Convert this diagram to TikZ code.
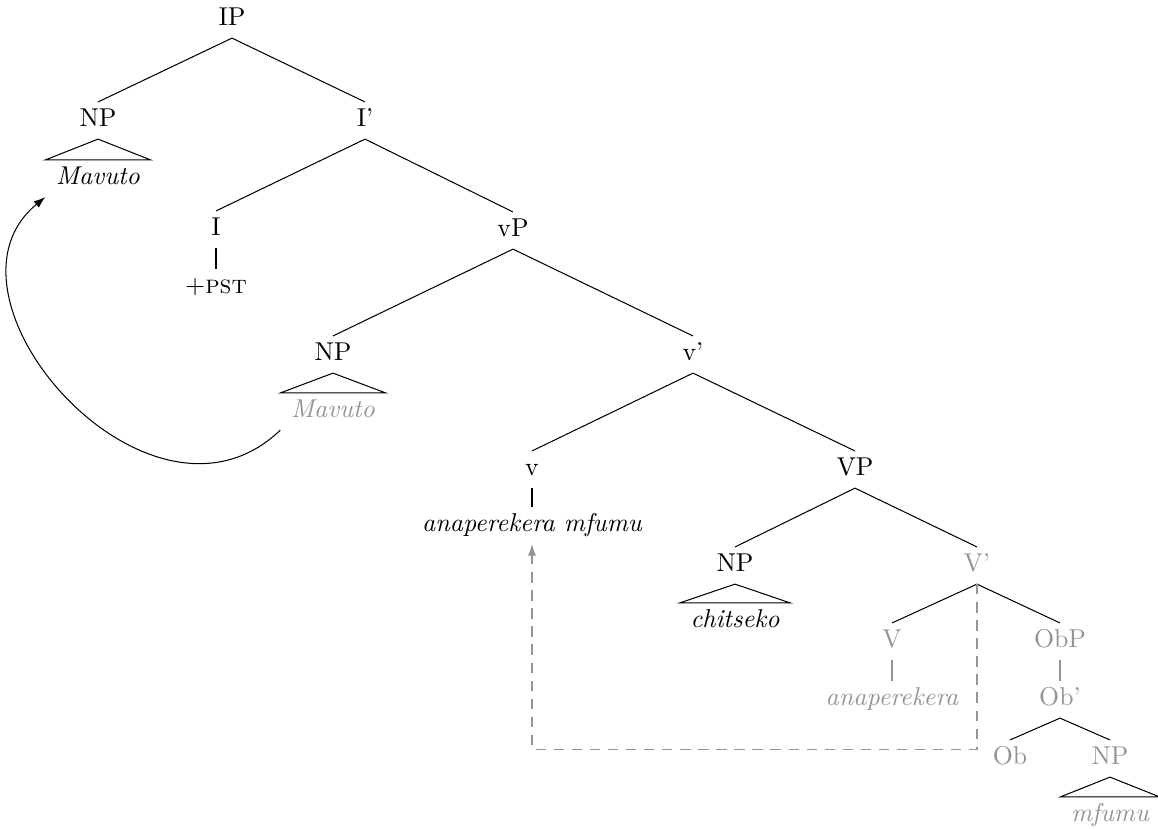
\documentclass[tikz,border=0pt]{standalone}
\usepackage{tikz}
\usetikzlibrary{arrows.meta}

\colorlet{tracegray}{black!42}
\tikzset{
  cat/.style={anchor=base, text height=7.5pt, text depth=2.5pt, inner xsep=4pt, inner ysep=2pt},
  leaf/.style={cat, font=\itshape},
  moved/.style={text=tracegray},
  movetip/.style={-{Latex[length=4.5pt,width=3.2pt]}},
}

\begin{document}
\begin{tikzpicture}[x=0.3876pt,y=-0.3876pt]
    \useasboundingbox (0,0) rectangle (1158,829);
    % Noeuds
    \node[cat] (ip) at (232,26) {IP};
    \node[cat] (npsubj) at (98,127) {NP};
    \node[leaf] (mavuto) at (98,185) {Mavuto};
    \node[cat] (ibar) at (365,127) {I'};
    \node[cat] (infl) at (216,236) {I};
    \node[cat] (pst) at (216,294) {+\textsc{pst}};
    \node[cat] (vp) at (513,237) {vP};
    \node[cat] (npt) at (333,361) {NP};
    \node[leaf,moved] (mavutot) at (333,418) {Mavuto};
    \node[cat] (vbar) at (693,361) {v'};
    \node[cat] (vhead) at (532,476) {v};
    \node[leaf] (verb) at (532,532) {anaperekera mfumu};
    \node[cat] (bigvp) at (855,476) {VP};
    \node[cat] (npobj) at (735,572) {NP};
    \node[leaf] (chitseko) at (735,628) {chitseko};
    \node[cat,moved] (bigvbar) at (977,572) {V'};
    \node[cat,moved] (bigv) at (892,648) {V};
    \node[leaf,moved] (verbt) at (892,706) {anaperekera};
    \node[cat,moved] (obp) at (1060,648) {ObP};
    \node[cat,moved] (obbar) at (1060,706) {Ob'};
    \node[cat,moved] (ob) at (1010,765) {Ob};
    \node[cat,moved] (npapp) at (1110,765) {NP};
    \node[leaf,moved] (mfumu) at (1110,822) {mfumu};
    % Branches
    \foreach \a/\b in {ip/npsubj,ip/ibar,ibar/infl,ibar/vp,infl/pst,vp/npt,vp/vbar,vbar/vhead,vbar/bigvp,
      vhead/verb,bigvp/npobj,bigvp/bigvbar,bigvbar/bigv,bigvbar/obp,obbar/ob,obbar/npapp}
      \draw (\a.south) -- (\b.north);
    \foreach \a/\b in {bigv/verbt,obp/obbar}
      \draw[tracegray] (\a.south) -- (\b.north);
    % Triangles
    \foreach \a/\b in {npsubj/mavuto,npt/mavutot,npobj/chitseko,npapp/mfumu}
      \draw (\a.south) -- (\b.north west) -- (\b.north east) -- cycle;
    % Mouvements
    \draw[movetip] (mavutot.south west) .. controls +(-130,125) and +(-122,100) .. (mavuto.south west);
    \draw[tracegray,dash pattern=on 4pt off 3pt,movetip] (bigvbar.south) -- ++(0,165) -| (verb.south);
  \end{tikzpicture}
\end{document}
